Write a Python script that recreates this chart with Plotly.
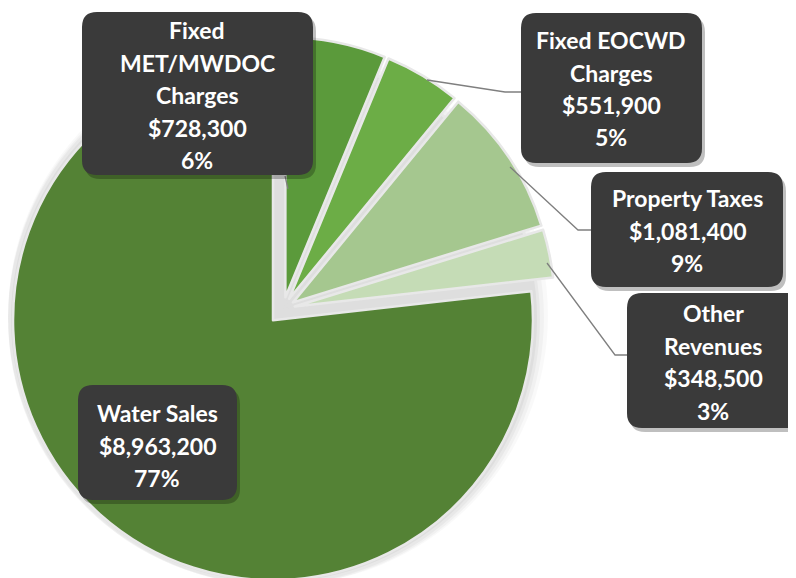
import plotly.graph_objects as go

W, H = 796, 578
OFF = 8  # the page body adds an 8px margin, so pixel targets are shifted back

# revenue sources (clockwise from 12 o'clock)
names = ["Fixed<br>MET/MWDOC<br>Charges", "Fixed EOCWD<br>Charges", "Property Taxes",
         "Other<br>Revenues", "Water Sales"]
values = [728300, 551900, 1081400, 348500, 8963200]
colors = ["#5b9a3b", "#6cad46", "#a5c78f", "#c5dcb6", "#548235"]
pulls = [0.046, 0.046, 0.046, 0.046, 0.058]

total = sum(values)
labels = [n.replace("<br>", " ") for n in names]


def px(x, y):
    return (x - OFF) / W, 1 - (y - OFF) / H


def rounded(x0, y0, x1, y1, r=15):
    def p(x, y):
        a, b = px(x, y)
        return f"{a:.5f},{b:.5f}"
    return (f"M {p(x0+r, y0)} L {p(x1-r, y0)} Q {p(x1, y0)} {p(x1, y0+r)} "
            f"L {p(x1, y1-r)} Q {p(x1, y1)} {p(x1-r, y1)} L {p(x0+r, y1)} "
            f"Q {p(x0, y1)} {p(x0, y1-r)} L {p(x0, y0+r)} Q {p(x0, y0)} {p(x0+r, y0)} Z")


def dom(cx, cy, half):
    x0, y0 = px(cx - half, cy + half)
    x1, y1 = px(cx + half, cy - half)
    return dict(x=[max(0, x0), min(1, x1)], y=[max(0, y0), min(1, y1)])


# pie placement in screen pixels
cx, cy, r = 283, 309, 260
fig = go.Figure()

# soft shadow behind the pie
for grow, alpha in [(14, 0.025), (10, 0.03), (6, 0.035), (3, 0.04)]:
    fig.add_trace(go.Pie(values=[total], labels=["shadow"],
                         marker=dict(colors=[f"rgba(0,0,0,{alpha})"], line=dict(width=0)),
                         textinfo="none", hoverinfo="skip", showlegend=False,
                         domain=dom(cx - 9, cy + 10, r + grow)))
# light grey underlay visible in the gaps between exploded slices
fig.add_trace(go.Pie(values=values, labels=labels,
                     marker=dict(colors=["#dedede"] * 5, line=dict(width=0)),
                     sort=False, direction="clockwise", rotation=0,
                     textinfo="none", hoverinfo="skip", showlegend=False,
                     domain=dom(cx, cy, r - 14)))
fig.add_trace(go.Pie(values=values, labels=labels,
                     marker=dict(colors=colors, line=dict(color="#e8e8e8", width=2.5)),
                     pull=pulls, sort=False, direction="clockwise", rotation=0,
                     textinfo="none", showlegend=False,
                     domain=dom(cx, cy, r * (1 + max(pulls)))))

# label boxes: (x0, y0, x1, y1, text centre x, first line y) in pixels
boxes = [
    (82, 12, 313, 175, 197, 30),
    (521, 13, 702, 163, 611, 40),
    (591, 172, 783, 287, 687, 198),
    (627, 293, 808, 428, 713, 313),
    (78, 385, 237, 500, 157, 413),
]
connectors = [
    [(285, 176), (288, 189)],
    [(427, 80), (505, 92), (521, 92)],
    [(510, 167), (578, 230), (591, 230)],
    [(547, 263), (615, 355), (627, 355)],
]

shapes = []
for pts in connectors:
    path = "M " + " L ".join("%.5f,%.5f" % px(x, y) for x, y in pts)
    shapes.append(dict(type="path", xref="paper", yref="paper", path=path,
                       line=dict(color="#7f7f7f", width=1.3)))
annotations = []
for (x0, y0, x1, y1, tx, ty), name, v in zip(boxes, names, values):
    shapes.append(dict(type="path", xref="paper", yref="paper",
                       path=rounded(x0 + 3, y0 + 4, x1 + 3, y1 + 4),
                       fillcolor="rgba(0,0,0,0.25)", line=dict(width=0)))
    shapes.append(dict(type="path", xref="paper", yref="paper",
                       path=rounded(x0, y0, x1, y1),
                       fillcolor="#3a3a3a", line=dict(width=0)))
    lines = name.split("<br>") + ["${:,}".format(v), "{}%".format(round(v / total * 100))]
    for i, t in enumerate(lines):
        ax, ay = px(tx, ty + i * 32.5)
        annotations.append(dict(x=ax, y=ay, xref="paper", yref="paper", text=t,
                                showarrow=False, xanchor="center", yanchor="middle",
                                font=dict(family="Lato", size=23, color="white",
                                          weight="bold")))

fig.update_layout(width=W, height=H, margin=dict(l=0, r=0, t=0, b=0),
                  paper_bgcolor="white", plot_bgcolor="white",
                  shapes=shapes, annotations=annotations)
fig.write_html("out.html")
